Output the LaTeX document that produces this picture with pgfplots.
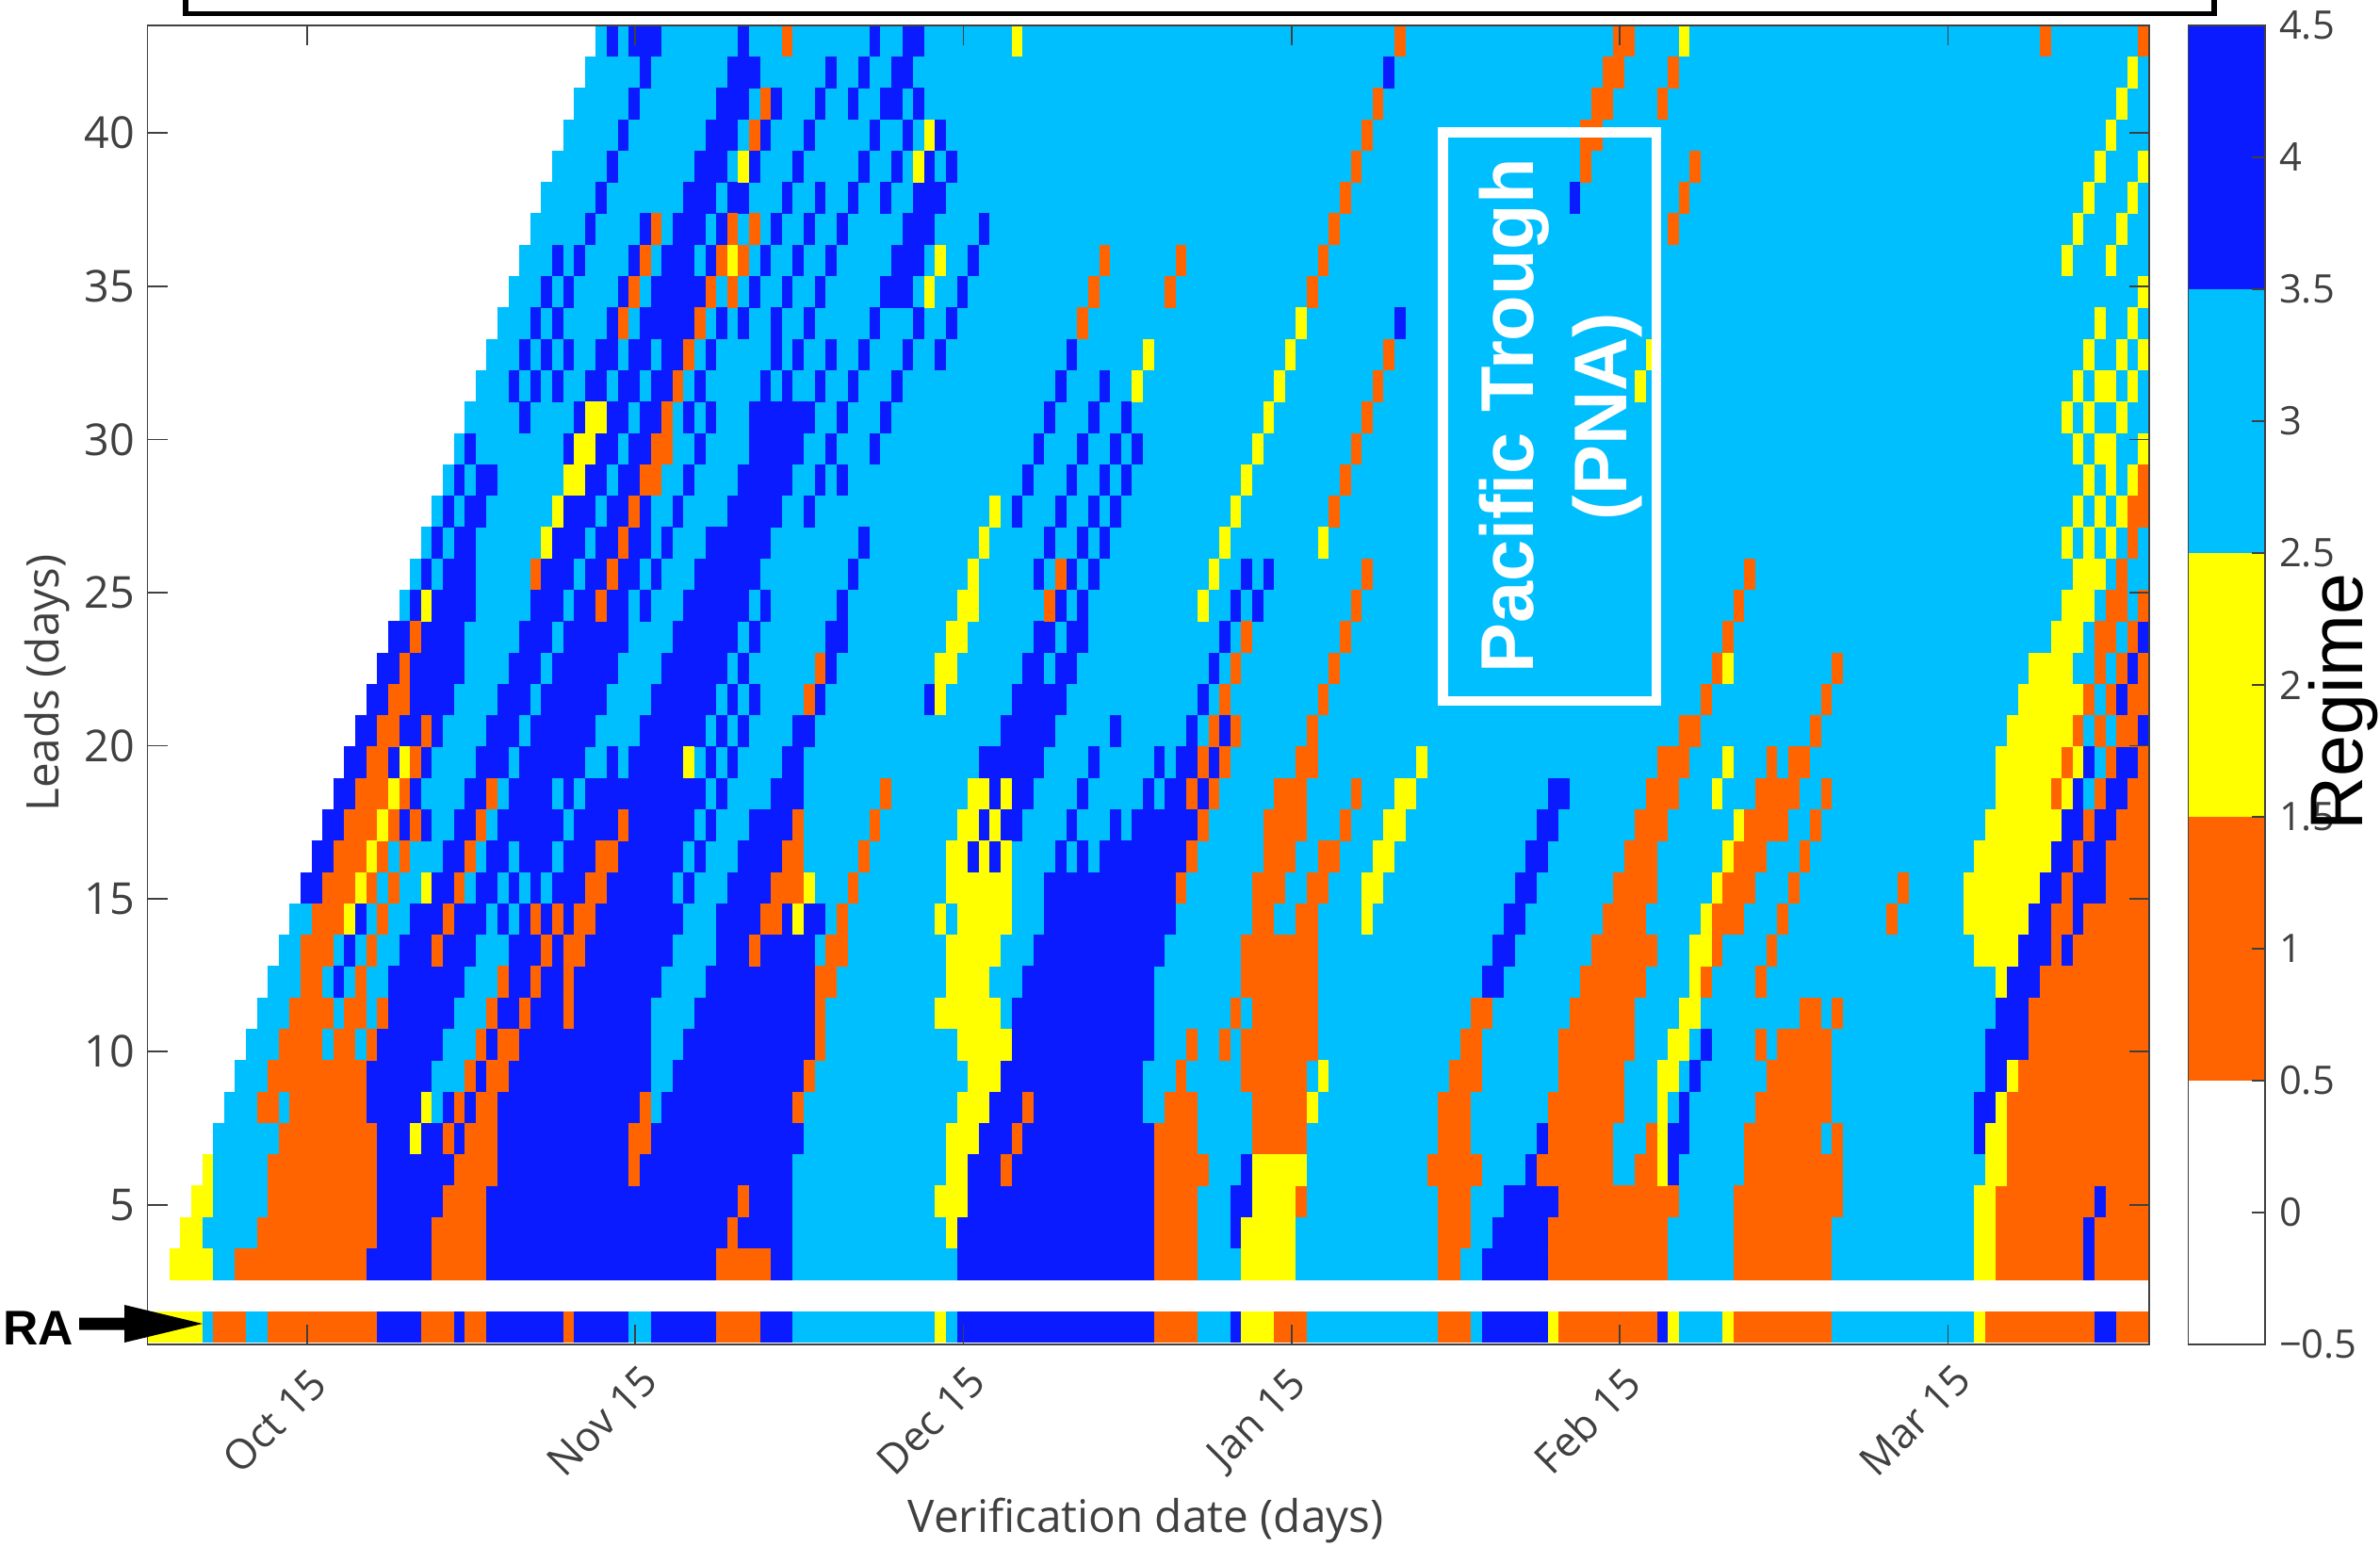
\documentclass[border=0pt]{standalone}
\usepackage{pgfplots}
\usepackage{pgfplotstable}
\usepackage{fontspec}
\pgfplotsset{compat=1.18}
\setmainfont{Open Sans}
\newfontfamily\lib{Liberation Sans}
\definecolor{rb}{RGB}{10,28,255}
\definecolor{rc}{RGB}{0,191,255}
\definecolor{ro}{RGB}{255,100,0}
\definecolor{ry}{RGB}{255,255,0}
\definecolor{fr}{gray}{0.25}
% each row of the tables: first day, row, end day
\pgfplotstableread[row sep=\\]{s r e\\
0 1 183\\ 2 3 183\\ 3 4 183\\ 4 5 183\\ 5 6 183\\ 6 7 183\\ 7 8 183\\ 8 9 183\\ 9 10 183\\ 10 11 183\\ 11 12 183\\ 12 13 183\\ 13 14 183\\ 14 15 183\\ 15 16 183\\ 16 17 183\\ 17 18 183\\ 18 19 183\\ 19 20 183\\ 20 21 183\\ 21 22 183\\ 22 23 183\\ 23 24 183\\ 24 25 183\\ 25 26 183\\ 26 27 183\\ 27 28 183\\ 28 29 183\\ 29 30 183\\ 30 31 183\\ 31 32 183\\ 32 33 183\\ 33 34 183\\ 34 35 183\\ 35 36 183\\ 36 37 183\\ 37 38 183\\ 38 39 183\\ 39 40 183\\ 40 41 183\\ 41 42 183\\
}\tabC
\pgfplotstableread[row sep=\\]{s r e\\
21 1 25\\ 28 1 29\\ 31 1 38\\ 39 1 44\\ 46 1 52\\ 56 1 59\\ 74 1 92\\ 99 1 100\\ 122 1 128\\ 138 1 139\\ 178 1 180\\
20 3 26\\ 31 3 52\\ 57 3 59\\ 74 3 92\\ 122 3 128\\ 177 3 178\\
21 4 26\\ 31 4 53\\ 54 4 59\\ 74 4 92\\ 99 4 100\\ 123 4 128\\ 177 4 178\\
21 5 27\\ 31 5 54\\ 55 5 59\\ 75 5 92\\ 99 5 101\\ 124 5 129\\ 178 5 179\\
21 6 28\\ 32 6 44\\ 45 6 59\\ 75 6 78\\ 79 6 92\\ 100 6 101\\ 126 6 127\\ 139 6 140\\
21 7 24\\ 25 7 27\\ 28 7 29\\ 32 7 44\\ 46 7 60\\ 76 7 79\\ 80 7 92\\ 127 7 128\\ 139 7 141\\ 167 7 168\\
20 8 25\\ 27 8 28\\ 29 8 30\\ 32 8 45\\ 47 8 59\\ 77 8 80\\ 81 8 91\\ 140 8 141\\ 167 8 169\\
20 9 26\\ 30 9 31\\ 33 9 46\\ 48 9 60\\ 78 9 91\\ 141 9 142\\ 168 9 170\\
21 10 27\\ 31 10 32\\ 34 10 46\\ 49 10 61\\ 79 10 92\\ 142 10 143\\ 168 10 172\\
22 11 28\\ 32 11 34\\ 35 11 38\\ 39 11 46\\ 50 11 61\\ 79 11 92\\ 169 11 172\\
17 12 18\\ 22 12 29\\ 33 12 35\\ 36 12 38\\ 39 12 47\\ 51 12 61\\ 80 12 92\\ 122 12 124\\ 170 12 173\\
18 13 19\\ 23 13 26\\ 27 13 30\\ 33 13 36\\ 37 13 38\\ 40 13 48\\ 52 13 55\\ 56 13 61\\ 81 13 93\\ 123 13 125\\ 171 13 174\\ 175 13 176\\
19 14 20\\ 24 14 27\\ 28 14 31\\ 32 14 33\\ 34 14 35\\ 36 14 37\\ 38 14 39\\ 41 14 49\\ 52 14 56\\ 58 14 59\\ 60 14 62\\ 82 14 94\\ 124 14 126\\ 172 14 174\\ 176 14 177\\
14 15 16\\ 26 15 28\\ 30 15 32\\ 33 15 34\\ 35 15 36\\ 37 15 40\\ 42 15 48\\ 49 15 50\\ 53 15 57\\ 82 15 94\\ 125 15 127\\ 173 15 175\\ 176 15 179\\
15 16 17\\ 27 16 29\\ 31 16 33\\ 34 16 37\\ 38 16 41\\ 43 16 49\\ 50 16 51\\ 54 16 58\\ 75 16 76\\ 77 16 78\\ 83 16 84\\ 85 16 86\\ 87 16 95\\ 126 16 128\\ 174 16 176\\ 177 16 179\\
16 17 18\\ 23 17 24\\ 25 17 26\\ 28 17 30\\ 32 17 38\\ 39 17 43\\ 44 17 50\\ 51 17 52\\ 55 17 59\\ 76 17 77\\ 78 17 80\\ 84 17 85\\ 88 17 89\\ 90 17 96\\ 127 17 129\\ 175 17 177\\ 178 17 180\\
17 18 19\\ 24 18 25\\ 29 18 31\\ 33 18 37\\ 38 18 39\\ 40 18 51\\ 52 18 53\\ 57 18 60\\ 77 18 78\\ 79 18 81\\ 85 18 86\\ 91 18 92\\ 93 18 95\\ 96 18 97\\ 128 18 130\\ 176 18 177\\ 179 18 181\\
18 19 20\\ 22 19 23\\ 25 19 26\\ 30 19 33\\ 34 19 40\\ 42 19 43\\ 44 19 49\\ 51 19 52\\ 53 19 54\\ 58 19 60\\ 76 19 82\\ 86 19 87\\ 92 19 93\\ 94 19 96\\ 97 19 98\\ 177 19 178\\ 180 19 182\\
19 20 21\\ 23 20 25\\ 26 20 27\\ 31 20 34\\ 35 20 41\\ 45 20 51\\ 52 20 53\\ 54 20 55\\ 59 20 61\\ 78 20 83\\ 88 20 89\\ 95 20 96\\ 98 20 99\\ 182 20 183\\
20 21 22\\ 24 21 28\\ 32 21 35\\ 36 21 42\\ 46 21 52\\ 53 21 54\\ 55 21 56\\ 61 21 62\\ 71 21 72\\ 79 21 84\\ 96 21 97\\ 180 21 181\\
21 22 23\\ 24 22 29\\ 33 22 36\\ 37 22 43\\ 47 22 53\\ 54 22 55\\ 62 22 63\\ 80 22 82\\ 83 22 85\\ 97 22 98\\ 181 22 182\\
22 23 24\\ 25 23 29\\ 34 23 37\\ 38 23 44\\ 48 23 54\\ 55 23 56\\ 62 23 64\\ 81 23 83\\ 84 23 86\\ 98 23 99\\ 182 23 183\\
24 24 25\\ 26 24 30\\ 35 24 38\\ 39 24 41\\ 42 24 44\\ 45 24 46\\ 49 24 55\\ 56 24 57\\ 63 24 64\\ 83 24 84\\ 85 24 86\\ 99 24 100\\ 101 24 102\\
25 25 26\\ 27 25 30\\ 36 25 39\\ 40 25 42\\ 43 25 45\\ 46 25 47\\ 50 25 56\\ 64 25 65\\ 81 25 82\\ 84 25 85\\ 86 25 87\\ 100 25 101\\ 102 25 103\\
26 26 27\\ 28 26 30\\ 37 26 40\\ 41 26 43\\ 44 26 46\\ 47 26 48\\ 51 26 57\\ 65 26 66\\ 82 26 83\\ 85 26 86\\ 87 26 88\\
27 27 28\\ 29 27 31\\ 38 27 41\\ 42 27 44\\ 45 27 46\\ 48 27 49\\ 53 27 58\\ 60 27 61\\ 79 27 80\\ 83 27 84\\ 86 27 87\\ 88 27 89\\
28 28 29\\ 30 28 32\\ 40 28 42\\ 43 28 45\\ 49 28 50\\ 54 28 59\\ 61 28 62\\ 63 28 64\\ 80 28 81\\ 84 28 85\\ 87 28 88\\ 89 28 90\\
29 29 30\\ 38 29 39\\ 41 29 43\\ 44 29 46\\ 50 29 51\\ 55 29 60\\ 62 29 63\\ 66 29 67\\ 81 29 82\\ 85 29 86\\ 88 29 89\\ 90 29 91\\
34 30 35\\ 39 30 40\\ 42 30 44\\ 45 30 47\\ 49 30 50\\ 51 30 52\\ 55 30 61\\ 63 30 64\\ 67 30 68\\ 82 30 83\\ 86 30 87\\ 89 30 90\\
33 31 34\\ 35 31 36\\ 37 31 38\\ 40 31 42\\ 43 31 45\\ 46 31 48\\ 50 31 51\\ 56 31 57\\ 58 31 59\\ 61 31 62\\ 64 31 65\\ 68 31 69\\ 83 31 84\\ 87 31 88\\
34 32 35\\ 36 32 37\\ 38 32 39\\ 41 32 43\\ 44 32 46\\ 47 32 49\\ 51 32 52\\ 57 32 58\\ 59 32 60\\ 62 32 63\\ 65 32 66\\ 69 32 70\\ 72 32 73\\ 84 32 85\\
35 33 36\\ 37 33 38\\ 42 33 43\\ 45 33 50\\ 52 33 53\\ 54 33 55\\ 57 33 58\\ 60 33 61\\ 66 33 67\\ 70 33 71\\ 73 33 74\\ 114 33 115\\
36 34 37\\ 38 34 39\\ 43 34 44\\ 46 34 51\\ 55 34 56\\ 58 34 59\\ 61 34 62\\ 67 34 70\\ 74 34 75\\
37 35 38\\ 39 35 40\\ 44 35 45\\ 47 35 50\\ 51 35 52\\ 56 35 57\\ 59 35 60\\ 62 35 63\\ 68 35 71\\ 75 35 76\\
40 36 41\\ 45 36 46\\ 48 36 51\\ 52 36 53\\ 57 36 58\\ 60 36 61\\ 63 36 64\\ 69 36 72\\ 76 36 77\\
41 37 42\\ 49 37 52\\ 53 37 55\\ 58 37 59\\ 61 37 62\\ 64 37 65\\ 67 37 68\\ 70 37 73\\ 130 37 131\\
42 38 43\\ 50 38 53\\ 55 38 56\\ 59 38 60\\ 65 38 66\\ 68 38 69\\ 71 38 72\\ 73 38 74\\
43 39 44\\ 51 39 54\\ 56 39 57\\ 60 39 61\\ 66 39 67\\ 69 39 70\\ 72 39 73\\
44 40 45\\ 52 40 55\\ 57 40 58\\ 61 40 62\\ 64 40 65\\ 67 40 69\\ 70 40 71\\
45 41 46\\ 53 41 56\\ 62 41 63\\ 65 41 66\\ 68 41 70\\ 113 41 114\\
42 42 43\\ 44 42 47\\ 54 42 55\\ 66 42 67\\ 69 42 71\\
}\tabB
\pgfplotstableread[row sep=\\]{s r e\\
6 1 9\\ 11 1 21\\ 25 1 28\\ 29 1 31\\ 38 1 39\\ 52 1 56\\ 92 1 96\\ 103 1 106\\ 118 1 121\\ 129 1 138\\ 145 1 154\\ 168 1 178\\ 180 1 183\\
8 3 20\\ 26 3 31\\ 52 3 57\\ 92 3 96\\ 118 3 120\\ 128 3 139\\ 145 3 154\\ 169 3 177\\ 178 3 183\\
10 4 21\\ 26 4 31\\ 53 4 54\\ 92 4 96\\ 118 4 121\\ 128 4 139\\ 145 4 154\\ 169 4 177\\ 178 4 183\\
11 5 21\\ 27 5 31\\ 54 5 55\\ 92 5 96\\ 105 5 106\\ 118 5 121\\ 129 5 140\\ 145 5 155\\ 169 5 178\\ 179 5 183\\
11 6 21\\ 28 6 32\\ 44 6 45\\ 78 6 79\\ 92 6 97\\ 117 6 122\\ 127 6 134\\ 136 6 138\\ 146 6 155\\ 170 6 183\\
12 7 21\\ 27 7 28\\ 29 7 32\\ 44 7 46\\ 79 7 80\\ 92 7 96\\ 101 7 106\\ 118 7 121\\ 128 7 134\\ 137 7 138\\ 146 7 153\\ 154 7 155\\ 170 7 183\\
10 8 12\\ 13 8 20\\ 28 8 29\\ 30 8 32\\ 45 8 46\\ 59 8 60\\ 80 8 81\\ 93 8 96\\ 101 8 106\\ 118 8 121\\ 128 8 135\\ 147 8 154\\ 170 8 183\\
11 9 20\\ 29 9 30\\ 31 9 33\\ 60 9 61\\ 94 9 95\\ 100 9 106\\ 119 9 122\\ 129 9 135\\ 148 9 154\\ 171 9 183\\
12 10 16\\ 17 10 19\\ 20 10 21\\ 30 10 31\\ 32 10 34\\ 61 10 62\\ 95 10 96\\ 98 10 99\\ 100 10 107\\ 120 10 122\\ 129 10 136\\ 147 10 148\\ 149 10 154\\ 172 10 183\\
13 11 17\\ 18 11 20\\ 21 11 22\\ 31 11 32\\ 34 11 35\\ 38 11 39\\ 61 11 62\\ 99 11 100\\ 101 11 107\\ 121 11 123\\ 130 11 136\\ 151 11 153\\ 154 11 155\\ 172 11 183\\
14 12 16\\ 19 12 20\\ 32 12 33\\ 35 12 36\\ 38 12 39\\ 61 12 63\\ 100 12 107\\ 131 12 137\\ 142 12 143\\ 147 12 148\\ 173 12 183\\
14 13 17\\ 20 13 21\\ 26 13 27\\ 36 13 37\\ 38 13 40\\ 55 13 56\\ 62 13 64\\ 100 13 107\\ 132 13 138\\ 143 13 144\\ 148 13 149\\ 174 13 175\\ 176 13 183\\
15 14 18\\ 21 14 22\\ 27 14 28\\ 35 14 36\\ 37 14 38\\ 39 14 41\\ 56 14 58\\ 63 14 64\\ 101 14 103\\ 105 14 107\\ 133 14 137\\ 143 14 146\\ 149 14 150\\ 159 14 160\\ 174 14 176\\ 177 14 183\\
16 15 19\\ 20 15 21\\ 22 15 23\\ 28 15 29\\ 40 15 42\\ 57 15 60\\ 64 15 65\\ 94 15 95\\ 101 15 104\\ 106 15 108\\ 134 15 138\\ 144 15 147\\ 150 15 151\\ 160 15 161\\ 175 15 176\\ 179 15 183\\
17 16 20\\ 21 16 22\\ 23 16 24\\ 29 16 30\\ 41 16 43\\ 58 16 60\\ 65 16 66\\ 95 16 96\\ 102 16 105\\ 107 16 109\\ 135 16 138\\ 145 16 148\\ 151 16 152\\ 176 16 177\\ 179 16 183\\
18 17 21\\ 22 17 23\\ 24 17 25\\ 30 17 31\\ 43 17 44\\ 59 17 60\\ 66 17 67\\ 96 17 97\\ 102 17 106\\ 109 17 110\\ 136 17 139\\ 146 17 150\\ 152 17 153\\ 177 17 178\\ 180 17 183\\
19 18 22\\ 23 18 24\\ 31 18 32\\ 67 18 68\\ 95 18 96\\ 97 18 98\\ 103 18 106\\ 110 18 111\\ 137 18 140\\ 147 18 151\\ 153 18 154\\ 174 18 175\\ 178 18 179\\ 181 18 183\\
20 19 22\\ 24 19 25\\ 96 19 97\\ 98 19 99\\ 105 19 107\\ 138 19 141\\ 148 19 149\\ 150 19 152\\ 175 19 176\\ 179 19 180\\ 182 19 183\\
21 20 23\\ 25 20 26\\ 97 20 98\\ 99 20 100\\ 106 20 107\\ 140 20 142\\ 152 20 153\\ 176 20 177\\ 178 20 179\\ 180 20 182\\
22 21 24\\ 60 21 61\\ 98 21 99\\ 107 21 108\\ 142 21 143\\ 153 21 154\\ 177 21 178\\ 179 21 180\\ 181 21 183\\
23 22 24\\ 61 22 62\\ 99 22 100\\ 108 22 109\\ 143 22 144\\ 154 22 155\\ 178 22 179\\ 180 22 181\\ 182 22 183\\
24 23 25\\ 100 23 101\\ 109 23 110\\ 144 23 145\\ 178 23 180\\ 181 23 182\\
41 24 42\\ 82 24 83\\ 110 24 111\\ 145 24 146\\ 179 24 181\\ 182 24 183\\
35 25 36\\ 42 25 43\\ 83 25 84\\ 111 25 112\\ 146 25 147\\ 180 25 181\\
43 26 44\\ 181 26 182\\
44 27 45\\ 108 27 109\\ 181 27 183\\
45 28 47\\ 109 28 110\\ 182 28 183\\
46 29 48\\ 110 29 111\\
47 30 48\\ 111 30 112\\
48 31 49\\ 112 31 113\\
49 32 50\\ 113 32 114\\
43 33 44\\ 50 33 51\\ 85 33 86\\
44 34 45\\ 51 34 52\\ 53 34 54\\ 86 34 87\\ 93 34 94\\ 106 34 107\\
45 35 46\\ 52 35 53\\ 54 35 55\\ 87 35 88\\ 94 35 95\\ 107 35 108\\
46 36 47\\ 53 36 54\\ 55 36 56\\ 108 36 109\\ 139 36 140\\
109 37 110\\ 140 37 141\\
110 38 111\\ 131 38 132\\ 141 38 142\\
55 39 56\\ 111 39 112\\ 131 39 133\\
56 40 57\\ 112 40 113\\ 132 40 134\\ 138 40 139\\
133 41 135\\ 139 41 140\\
58 42 59\\ 114 42 115\\ 134 42 136\\ 173 42 174\\ 182 42 183\\
}\tabO
\pgfplotstableread[row sep=\\]{s r e\\
0 1 5\\ 72 1 73\\ 100 1 103\\ 128 1 129\\ 139 1 140\\ 144 1 145\\ 167 1 168\\
2 3 6\\ 100 3 105\\ 167 3 169\\
3 4 5\\ 73 4 74\\ 100 4 105\\ 167 4 169\\
4 5 6\\ 72 5 75\\ 101 5 105\\ 167 5 169\\
5 6 6\\ 73 6 75\\ 101 6 106\\ 138 6 139\\ 168 6 170\\
24 7 25\\ 73 7 76\\ 138 7 139\\ 168 7 170\\
25 8 26\\ 74 8 77\\ 106 8 107\\ 138 8 139\\ 169 8 170\\
75 9 78\\ 107 9 108\\ 138 9 140\\ 170 9 171\\
74 10 79\\ 139 10 141\\
72 11 78\\ 140 11 142\\
73 12 77\\ 141 12 142\\ 169 12 170\\
73 13 78\\ 141 13 143\\ 167 13 171\\
18 14 19\\ 59 14 60\\ 72 14 73\\ 74 14 79\\ 111 14 112\\ 142 14 143\\ 166 14 172\\
19 15 20\\ 25 15 26\\ 60 15 61\\ 73 15 79\\ 111 15 113\\ 143 15 144\\ 166 15 173\\
20 16 21\\ 73 16 75\\ 76 16 77\\ 78 16 79\\ 112 16 114\\ 144 16 145\\ 167 16 174\\
21 17 22\\ 74 17 76\\ 77 17 78\\ 113 17 115\\ 145 17 146\\ 168 17 175\\
22 18 23\\ 75 18 77\\ 78 18 79\\ 114 18 116\\ 143 18 144\\ 169 18 174\\ 175 18 176\\
23 19 24\\ 49 19 50\\ 116 19 117\\ 144 19 145\\ 169 19 175\\ 176 19 177\\
170 20 176\\
72 21 73\\ 171 21 177\\
72 22 74\\ 144 22 145\\ 172 22 176\\
73 23 75\\ 174 23 177\\
25 24 26\\ 74 24 76\\ 96 24 97\\ 175 24 178\\
75 25 76\\ 97 25 98\\ 176 25 179\\
36 26 37\\ 76 26 77\\ 98 26 99\\ 107 26 108\\ 175 26 176\\ 177 26 178\\ 179 26 180\\
37 27 38\\ 77 27 78\\ 99 27 100\\ 176 27 177\\ 178 27 179\\ 180 27 181\\
38 28 40\\ 100 28 101\\ 177 28 178\\ 179 28 180\\ 181 28 182\\
39 29 41\\ 101 29 102\\ 176 29 177\\ 178 29 180\\ 182 29 183\\
40 30 42\\ 102 30 103\\ 175 30 176\\ 177 30 178\\ 180 30 181\\
90 31 91\\ 103 31 104\\ 136 31 137\\ 176 31 177\\ 178 31 180\\ 181 31 182\\
91 32 92\\ 104 32 105\\ 137 32 138\\ 177 32 178\\ 180 32 181\\ 182 32 183\\
105 33 106\\ 178 33 179\\ 181 33 182\\
71 34 72\\ 182 34 183\\
53 35 54\\ 72 35 73\\ 175 35 176\\ 179 35 180\\
176 36 177\\ 180 36 181\\
177 37 178\\ 181 37 182\\
54 38 55\\ 70 38 71\\ 178 38 179\\ 182 38 183\\
71 39 72\\ 179 39 180\\
180 40 181\\
181 41 182\\
79 42 80\\ 140 42 141\\
}\tabY
\tikzset{lab/.style={font=\fontsize{12.5}{14}\selectfont, text=fr},
  tit/.style={font=\fontsize{14.3}{16}\selectfont, text=fr}}
\pgfplotsset{
  runs/.style={draw=#1, line width=10.1pt, mark=none, line cap=butt, -,
    quiver={u=\thisrow{e}-\thisrow{s}, v=0}},
}
\begin{document}
\begin{tikzpicture}
\path[use as bounding box] (0,0) rectangle (757.8pt,492.6pt);
\begin{axis}[
  at={(46.95pt,64.5pt)}, anchor=south west, scale only axis,
  width=637.35pt, height=420pt,
  xmin=0, xmax=183, ymin=0.44, ymax=42.5,
  axis on top, axis line style={fr, line width=0.55pt},
  tick align=inside, major tick length=6.3pt,
  tick style={fr, line width=0.5pt},
  xtick={14.6,44.6,74.6,104.6,134.6,164.6},
  xticklabels={Oct 15,Nov 15,Dec 15,Jan 15,Feb 15,Mar 15},
  ytick={4.89,9.78,14.65,19.53,24.42,29.30,34.18,39.08},
  yticklabels={5,10,15,20,25,30,35,40},
  xticklabel style={font=\fontsize{13.2}{15}\selectfont, text=fr, rotate=45, anchor=center, xshift=-24.6pt, yshift=-9.8pt},
  yticklabel style={font=\fontsize{14}{15}\selectfont, text=fr, xshift=-0.6pt},
]
\addplot[runs=rc] table[x=s, y=r] {\tabC};
\addplot[runs=rb] table[x=s, y=r] {\tabB};
\addplot[runs=ro] table[x=s, y=r] {\tabO};
\addplot[runs=ry] table[x=s, y=r] {\tabY};
\end{axis}
\begin{axis}[
  at={(696.75pt,64.5pt)}, anchor=south west, scale only axis,
  width=24.45pt, height=420pt,
  xmin=0, xmax=1, ymin=-0.5, ymax=4.5,
  axis on top, axis line style={fr, line width=0.55pt},
  xtick=\empty,
  tick align=inside, major tick length=4.3pt, tick style={fr, line width=0.5pt},
  ytick={-0.5,0,0.5,1,1.5,2,2.5,3,3.5,4,4.5},
  yticklabels={−0.5,0,0.5,1,1.5,2,2.5,3,3.5,4,4.5},
  tick pos=right, yticklabel pos=right,
  yticklabel style={lab, anchor=west, xshift=1pt},
]
\addplot[fill=white, draw=none] coordinates {(0,-0.5)(1,-0.5)(1,0.5)(0,0.5)} --cycle;
\addplot[fill=ro, draw=none] coordinates {(0,0.5)(1,0.5)(1,1.5)(0,1.5)} --cycle;
\addplot[fill=ry, draw=none] coordinates {(0,1.5)(1,1.5)(1,2.5)(0,2.5)} --cycle;
\addplot[fill=rc, draw=none] coordinates {(0,2.5)(1,2.5)(1,3.5)(0,3.5)} --cycle;
\addplot[fill=rb, draw=none] coordinates {(0,3.5)(1,3.5)(1,4.5)(0,4.5)} --cycle;
\end{axis}
\begin{scope}[x=0.3pt, y=-0.3pt, shift={(0pt,492.6pt)}]
  % box cut by the top of the page
  \draw[black, line width=1.6pt] (197,0) -- (197,14.5) -- (2350,14.5) -- (2350,0);
  % white box and its text
  \draw[white, line width=3.15pt] (1531.5,140.5) rectangle (1758,744);
  \node[rotate=90, anchor=base, white, inner sep=0, font=\lib\bfseries\fontsize{23.8}{28}\selectfont] at (1627.5,441.5) {Pacific Trough};
  \node[rotate=90, anchor=base, white, inner sep=0, font=\lib\bfseries\fontsize{23.8}{28}\selectfont] at (1726,442) {(PNA)};
  % axis titles
  \node[rotate=90, tit, inner sep=0] at (50,725) {Leads (days)};
  \node[tit, inner sep=0] at (1216,1614) {Verification date (days)};
  \node[rotate=90, black, inner sep=0, font=\lib\fontsize{23.7}{28}\selectfont] at (2487,745) {Regime};
  % RA arrow
  \node[anchor=base west, inner sep=0, black, font=\lib\bfseries\fontsize{15.5}{18}\selectfont] at (3,1427) {RA};
  \fill[black] (84,1398.7) -- (132,1398.7) -- (132,1385) -- (215,1405) -- (132,1425) -- (132,1411.7) -- (84,1411.7) -- cycle;
\end{scope}
\end{tikzpicture}
\end{document}
